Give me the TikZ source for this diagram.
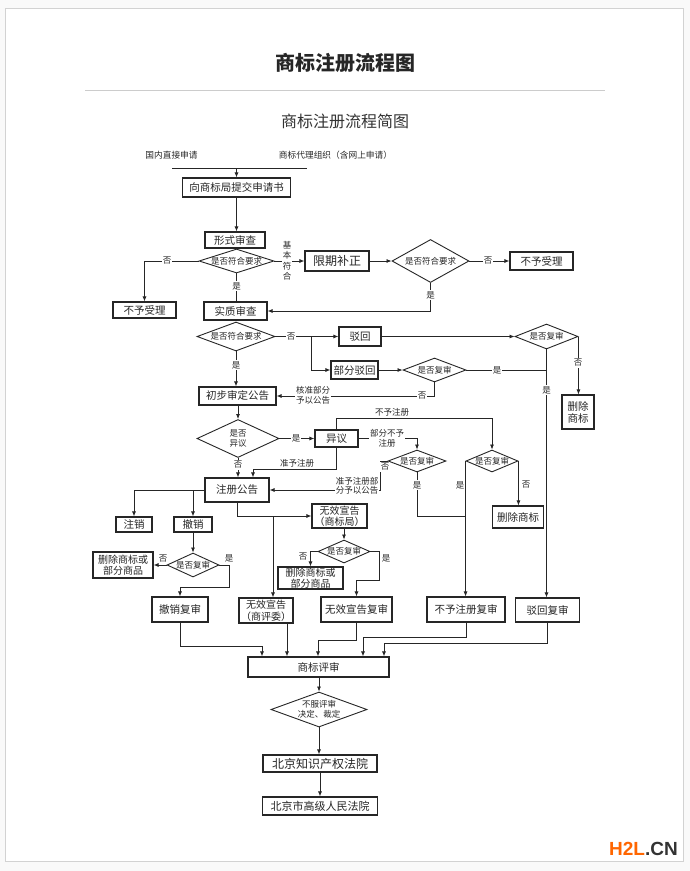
\documentclass[tikz,border=0pt]{standalone}
\usepackage{fontspec}
\setmainfont{Noto Sans CJK SC}
\newfontfamily\wmfont{Liberation Sans}
\usetikzlibrary{shapes.geometric,arrows.meta}
\begin{document}
\begin{tikzpicture}[x=1pt,y=-1pt,
  box/.style={draw=black!85, line width=1.1pt, inner sep=0pt, align=center, text=black!85, font=\fontsize{10.5}{12}\selectfont},
  bx/.style 2 args={box, minimum width=#1pt, minimum height=#2pt},
  dia/.style 2 args={diamond, draw=black!85, line width=0.9pt, inner sep=0pt, minimum width=#1pt, minimum height=#2pt},
  dtext/.style={font=\fontsize{8.5}{10}\selectfont, inner sep=0pt, align=center, text=black!85},
  lab/.style={font=\fontsize{8.5}{10}\selectfont, inner sep=1pt, align=center, text=black!85},
  wlab/.style={lab, fill=white},
  arr/.style={-{Latex[length=5pt,width=4pt]}, line width=0.8pt, draw=black!85},
  ln/.style={line width=0.8pt, draw=black!85},
]
\useasboundingbox (0,0) rectangle (690,871);
\fill[gray!5] (0,0) rectangle (690,871);
\draw[gray!35, fill=white] (5,8) rectangle (683,861);

% titles
\node[font=\fontsize{20}{22}\selectfont\bfseries, text=black!85] (title) at (345,63) {商标注册流程图};
\coordinate (gl) at (85,90); \coordinate (gr) at (605,90);
\draw[gray!40, line width=0.8pt] (gl) -- (gr);
\node[font=\fontsize{16}{18}\selectfont, text=black!80] (sub) at (345,121) {商标注册流程简图};
\node[font=\wmfont\bfseries\fontsize{19}{20}\selectfont, anchor=east, inner sep=0pt] (wmk) at (678,848.5) {\textcolor[HTML]{FF6600}{H2L}\textcolor[HTML]{333333}{.CN}};

% sources
\node[lab, font=\fontsize{8.7}{10}\selectfont] (src1) at (171.5,155) {国内直接申请};
\node[lab, font=\fontsize{8.7}{10}\selectfont] (src2) at (335.5,155) {商标代理组织（含网上申请）};
\coordinate (tl) at (172,168); \coordinate (tr) at (307,168);
\draw[line width=1pt, black!85] (tl) -- (tr);

% nodes
\node[bx={108}{19}] (n1) at (236.5,187.5) {向商标局提交申请书};
\node[bx={60}{16}] (n2) at (235,240) {形式审查};
\node[dia={75}{24}, label={[dtext]center:是否符合要求}] (d1) at (236.5,261) {};
\node[bx={63}{16}] (n3) at (144.5,310) {不予受理};
\node[bx={64}{20}, font=\fontsize{12}{14}\selectfont] (n4) at (337,261) {限期补正};
\node[dia={77}{43}, label={[dtext]center:是否符合要求}] (d2) at (430.5,261) {};
\node[bx={63}{18}] (n5) at (541.5,261) {不予受理};
\node[bx={63}{18}] (n6) at (235.5,311) {实质审查};
\node[dia={78}{29}, label={[dtext]center:是否符合要求}] (d3) at (236,336.5) {};
\node[bx={42}{19}] (n7) at (360,336.5) {驳回};
\node[bx={47}{18}] (n8) at (354.5,370) {部分驳回};
\node[dia={63}{25}, label={[dtext]center:是否复审}] (d4) at (546.5,336.5) {};
\node[bx={32}{34}] (n9) at (578,412) {删除\\商标};
\node[dia={63}{24}, label={[dtext]center:是否复审}] (d5) at (434.5,370) {};
\node[bx={77}{18}] (n10) at (237.5,396) {初步审定公告};
\node[dia={82}{38}, label={[dtext]center:{是否\\异议}}] (d6) at (238,438.5) {};
\node[bx={43}{17}] (n11) at (336.5,438.5) {异议};
\node[dia={58}{22}, label={[dtext]center:是否复审}] (d8) at (417,461) {};
\node[dia={52}{22}, label={[dtext]center:是否复审}] (d7) at (492,461) {};
\node[bx={51}{22}] (n12) at (518,517) {删除商标};
\node[bx={64}{24}] (n13) at (237,490) {注册公告};
\node[bx={36}{15}] (n14) at (134,524.5) {注销};
\node[bx={38}{15}] (n15) at (193,524.5) {撤销};
\node[dia={52}{24}, label={[dtext]center:是否复审}] (d9) at (193,565) {};
\node[bx={60}{26}, font=\fontsize{10}{11.5}\selectfont] (n16) at (123,565) {删除商标或\\部分商品};
\node[bx={56}{25}] (n17) at (180,609.5) {撤销复审};
\node[bx={55}{24}, font=\fontsize{10}{11.5}\selectfont] (n18) at (339.5,516) {无效宣告\\（商标局）};
\node[dia={52}{23}, label={[dtext]center:是否复审}] (d10) at (344,551.5) {};
\node[bx={65}{22}, font=\fontsize{10}{11}\selectfont] (n19) at (310.5,578) {删除商标或\\部分商品};
\node[bx={71}{25}] (n20) at (356.5,609.5) {无效宣告复审};
\node[bx={54}{25}, font=\fontsize{10}{11.5}\selectfont] (n21) at (266,610.5) {无效宣告\\（商评委）};
\node[bx={78}{25}] (n22) at (466,609.5) {不予注册复审};
\node[bx={64}{24}] (n23) at (547.5,610) {驳回复审};
\node[bx={141}{20}] (n24) at (318.5,667) {商标评审};
\node[dia={96}{35}, label={[dtext]center:{不服评审\\决定、裁定}}] (d11) at (319,709.5) {};
\node[bx={114}{17}, font=\fontsize{12}{14}\selectfont] (n25) at (320,763.5) {北京知识产权法院};
\node[bx={115}{18}, font=\fontsize{11}{13}\selectfont] (n26) at (320,806) {北京市高级人民法院};

% connectors
\draw[arr] (n1.north |- tl) -- (n1.north);
\draw[arr] (n1.south) -- (n1.south |- n2.north);
\draw[arr] (d1.west) -| (n3.north);
\node[wlab] (l1) at (167,261) {否};
\draw[arr] (d1.east) -- (n4.west);
\node[wlab, font=\fontsize{8.5}{10.5}\selectfont] (l2) at (287,261) {基\\本\\符\\合};
\draw[arr] (n4.east) -- (d2.west);
\draw[arr] (d2.east) -- (n5.west);
\node[wlab] (l3) at (488,261) {否};
\draw[arr] (d2.south) |- (n6.east);
\node[wlab] (l4) at (430.5,295) {是};
\draw[ln] (d1.south) -- (d1.south |- n6.north);
\node[wlab] (l5) at (236.5,286) {是};

\coordinate (c3) at (311,336.5);
\draw[arr] (d3.east) -- (c3) -- (n7.west);
\draw[arr] (c3) |- (n8.west);
\node[wlab] (l6) at (291,336.5) {否};
\draw[arr] (n7.east) -- (d4.west);
\draw[arr] (d4.east) -- (d4.east |- n9.north);
\node[wlab] (l7) at (578,363) {否};
\draw[arr] (d4.south) -- (d4.south |- n23.north);
\node[wlab] (l8) at (546.5,390) {是};
\draw[arr] (n8.east) -- (d5.west);
\draw[ln] (d5.east) -- (d5.east -| d4.south);
\node[wlab] (l9) at (497,370) {是};
\draw[arr] (d5.south) |- (n10.east);
\node[wlab] (l10) at (422,396) {否};
\node[wlab, font=\fontsize{8.5}{9.5}\selectfont] (l11) at (313,395.5) {核准部分\\予以公告};
\draw[arr] (d3.south) -- (d3.south |- n10.north);
\node[wlab] (l12) at (236,365) {是};
\draw[arr] (n10.south -| d6.north) -- (d6.north);
\draw[arr] (d6.east) -- (n11.west);
\node[wlab] (l13) at (296,438.5) {是};
\draw[arr] (d6.south) -- (d6.south |- n13.north);
\node[wlab] (l14) at (238,465) {否};

\coordinate (c6) at (253,469);
\draw[arr] (n11.south) |- (c6) -- (c6 |- n13.north);
\node[lab, anchor=south] (l15) at (297,468) {准予注册};
\coordinate (c7) at (492,418);
\draw[arr] (n11.north) |- (c7) -- (d7.north);
\node[lab, anchor=south] (l16) at (392,417) {不予注册};
\coordinate (c8) at (417,438.5);
\draw[arr] (n11.east) -- (c8) -- (d8.north);
\node[wlab, font=\fontsize{8.5}{10.5}\selectfont] (l17) at (387,438.5) {部分不予\\注册};
\coordinate (c9) at (380,461);
\draw[arr] (d8.west) -- (c9) |- (n13.east);
\node[wlab] (l18) at (385,467) {否};
\node[wlab, font=\fontsize{8.5}{9}\selectfont] (l19) at (357,486) {准予注册部\\分予以公告};
\coordinate (c10) at (417,516);
\draw[ln] (d8.south) -- (c10) -- (c10 -| d7.west);
\node[wlab] (l20) at (417,485) {是};
\draw[arr] (d7.west) -- (d7.west |- n22.north);
\node[lab] (l21) at (460,485) {是};
\draw[arr] (d7.east) -- (d7.east |- n12.north);
\node[lab] (l22) at (526,485) {否};

\draw[arr] (n13.west) -| (n14.north);
\draw[arr] (n15.north |- n13.west) -- (n15.north);
\draw[arr] (n15.south) -- (d9.north);
\draw[arr] (d9.west) -- (n16.east);
\node[lab, anchor=south] (l23) at (163,563) {否};
\coordinate (c13) at (229,587);
\draw[arr] (d9.east) -| (c13) -| (n17.north);
\node[lab, anchor=south] (l24) at (229,563) {是};

\draw[arr] (n13.south) |- (n18.west);
\coordinate (c15) at (273,516);
\draw[arr] (c15) -- (c15 |- n21.north);
\draw[arr] (n18.south -| d10.north) -- (d10.north);
\draw[arr] (d10.west) -| (n19.north);
\node[lab] (l25) at (303,557) {否};
\coordinate (c17) at (379,580);
\draw[arr] (d10.east) -| (c17) -| (n20.north);
\node[lab] (l26) at (386,558) {是};

% into 商标评审
\coordinate (b1) at (262,646);
\draw[arr] (n17.south) |- (b1) -- (b1 |- n24.north);
\coordinate (b2) at (287,640);
\draw[arr] (b2 |- n21.south) -- (b2 |- n24.north);
\coordinate (b3) at (318,640);
\draw[arr] (n20.south) |- (b3) -- (b3 |- n24.north);
\coordinate (b4) at (363,637);
\draw[arr] (n22.south) |- (b4) -- (b4 |- n24.north);
\coordinate (b5) at (384,643);
\draw[arr] (n23.south) |- (b5) -- (b5 |- n24.north);

\draw[arr] (n24.south -| d11.north) -- (d11.north);
\draw[arr] (d11.south) -- (d11.south |- n25.north);
\draw[arr] (n25.south -| n26.north) -- (n26.north);
\end{tikzpicture}
\end{document}
